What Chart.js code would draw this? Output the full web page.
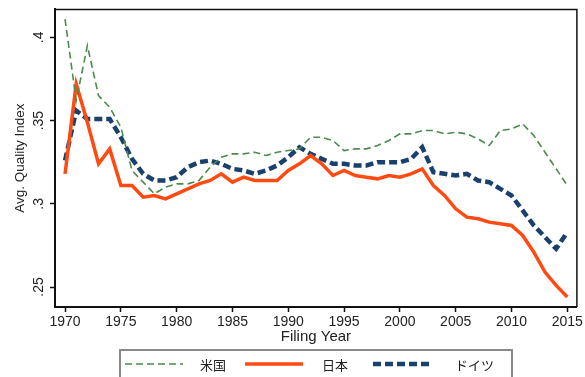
<!DOCTYPE html>
<html>
<head>
<meta charset="utf-8">
<script src="https://cdn.jsdelivr.net/npm/chart.js@4/dist/chart.umd.min.js"></script>
<style>
html,body{margin:0;padding:0;background:#fff;}
#wrap{width:585px;height:377px;position:relative;}
</style>
</head>
<body>
<div id="wrap"><canvas id="c" width="585" height="377"></canvas></div>
<script>
const years = [1970,1971,1972,1973,1974,1975,1976,1977,1978,1979,1980,1981,1982,1983,1984,1985,1986,1987,1988,1989,1990,1991,1992,1993,1994,1995,1996,1997,1998,1999,2000,2001,2002,2003,2004,2005,2006,2007,2008,2009,2010,2011,2012,2013,2014,2015];
const usValues = [0.411,0.362,0.395,0.365,0.358,0.346,0.320,0.313,0.306,0.310,0.312,0.312,0.314,0.322,0.328,0.330,0.330,0.331,0.329,0.331,0.332,0.333,0.340,0.340,0.338,0.332,0.333,0.333,0.335,0.338,0.342,0.342,0.344,0.344,0.342,0.343,0.342,0.339,0.335,0.344,0.345,0.348,0.341,0.331,0.321,0.311];
const jpValues = [0.318,0.372,0.349,0.324,0.333,0.311,0.311,0.304,0.305,0.303,0.306,0.309,0.312,0.314,0.318,0.313,0.316,0.314,0.314,0.314,0.320,0.324,0.329,0.324,0.317,0.320,0.317,0.316,0.315,0.317,0.316,0.318,0.321,0.311,0.305,0.297,0.292,0.291,0.289,0.288,0.287,0.281,0.271,0.259,0.251,0.244];
const deValues = [0.326,0.356,0.351,0.351,0.351,0.340,0.327,0.318,0.314,0.314,0.316,0.322,0.325,0.326,0.324,0.321,0.320,0.318,0.320,0.323,0.328,0.334,0.330,0.327,0.324,0.324,0.323,0.323,0.325,0.325,0.325,0.327,0.334,0.319,0.318,0.317,0.318,0.314,0.313,0.309,0.305,0.296,0.287,0.280,0.273,0.283];
const seriesNames = ['米国','日本','ドイツ'];
const xTicks = [1970,1975,1980,1985,1990,1995,2000,2005,2010,2015];
const yTicks = [0.25,0.3,0.35,0.4];
const yTickLabels = ['.25','.3','.35','.4'];
const xTitle = 'Filing Year';
const yTitle = 'Avg. Quality Index';

const toXY = vals => years.map((yr,i)=>({x:yr,y:vals[i]}));
const textColor = '#222';
const fontFam = '"Liberation Sans", Arial, sans-serif';

const framePlugin = {
  id:'frame',
  afterDatasetsDraw(chart){
    const {ctx, chartArea:a} = chart;
    ctx.save();
    ctx.strokeStyle = '#111';
    ctx.lineWidth = 1.5;
    ctx.beginPath();
    ctx.moveTo(a.left, a.top); ctx.lineTo(a.right, a.top); ctx.lineTo(a.right, a.bottom);
    ctx.stroke();
    ctx.restore();
  }
};

const legendLayout = {box:{x:120,y:350,w:392,h:40}, sampleX:[125,245,373], sampleLen:58, textX:[200,322,455], rowY:364};
const legendPlugin = {
  id:'customLegend',
  afterDraw(chart){
    const {ctx} = chart;
    const L = legendLayout;
    ctx.save();
    ctx.strokeStyle = '#8a8a8a';
    ctx.lineWidth = 2;
    ctx.strokeRect(L.box.x, L.box.y, L.box.w, L.box.h);
    chart.data.datasets.forEach((ds,i)=>{
      ctx.beginPath();
      ctx.setLineDash(ds.borderDash || []);
      ctx.lineWidth = ds.borderWidth;
      ctx.strokeStyle = ds.borderColor;
      ctx.moveTo(L.sampleX[i], L.rowY);
      ctx.lineTo(L.sampleX[i] + L.sampleLen, L.rowY);
      ctx.stroke();
      ctx.setLineDash([]);
      ctx.fillStyle = textColor;
      ctx.font = '13px "Noto Sans CJK JP", sans-serif';
      ctx.textBaseline = 'middle';
      ctx.textAlign = 'left';
      ctx.fillText(ds.label, L.textX[i], L.rowY + 1);
    });
    ctx.restore();
  }
};

new Chart(document.getElementById('c'), {
  type:'line',
  data:{
    datasets:[
      {label:seriesNames[0], data:toXY(usValues), borderColor:'#4b8b4b', borderWidth:1.6, borderDash:[7,4], pointRadius:0, tension:0, fill:false},
      {label:seriesNames[1], data:toXY(jpValues), borderColor:'#ff4a12', borderWidth:3.5, pointRadius:0, tension:0, fill:false},
      {label:seriesNames[2], data:toXY(deValues), borderColor:'#1a406e', borderWidth:4.5, borderDash:[8,4], pointRadius:0, tension:0, fill:false}
    ]
  },
  options:{
    responsive:false,
    animation:false,
    devicePixelRatio:1,
    layout:{padding:{top:9,right:7,left:0,bottom:0}},
    plugins:{legend:{display:false}, tooltip:{enabled:false}},
    scales:{
      x:{
        type:'linear', min:1969.1, max:2015.86,
        afterBuildTicks(s){ s.ticks = xTicks.map(v=>({value:v})); },
        afterFit(s){ s.height = 70; },
        grid:{display:true, drawOnChartArea:false, drawTicks:true, tickLength:5, tickWidth:1.5, color:'#111'},
        border:{display:true, color:'#111', width:2},
        ticks:{color:textColor, font:{family:fontFam, size:14}, padding:2, maxRotation:0, autoSkip:false, callback:v=>String(v)},
        title:{display:true, text:xTitle, color:textColor, font:{family:fontFam, size:15}, padding:{top:0,bottom:31}}
      },
      y:{
        type:'linear', min:0.238, max:0.4168,
        afterBuildTicks(s){ s.ticks = yTicks.map(v=>({value:v})); },
        afterFit(s){ s.width = 55; },
        grid:{display:true, drawOnChartArea:false, drawTicks:true, tickLength:5, tickWidth:1.5, color:'#111'},
        border:{display:true, color:'#111', width:2},
        ticks:{color:textColor, font:{family:fontFam, size:14}, padding:1, minRotation:90, maxRotation:90, crossAlign:'center', autoSkip:false,
          callback:v=>{ const k = yTicks.findIndex(t=>Math.abs(t-v)<1e-9); return k>=0 ? yTickLabels[k] : ''; }},
        title:{display:true, text:yTitle, color:textColor, font:{family:fontFam, size:13.5}, padding:{top:12,bottom:0}}
      }
    }
  },
  plugins:[framePlugin, legendPlugin]
});
</script>
</body>
</html>
